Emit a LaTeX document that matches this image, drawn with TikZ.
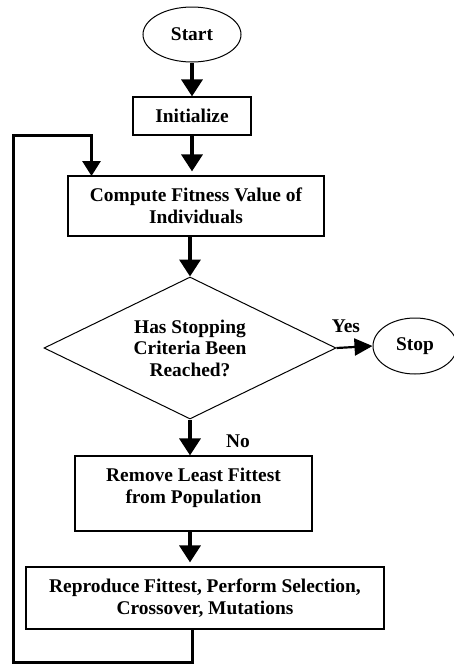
\documentclass[tikz,border=0pt]{standalone}
\usepackage{fontspec}
\setmainfont{Liberation Serif}
\usetikzlibrary{arrows.meta, positioning, shapes.geometric}

\begin{document}
\begin{tikzpicture}[x=1pt, y=-1pt,
  box/.style={draw, line width=1.2pt, inner sep=0pt, align=center,
    font=\fontsize{19.4}{21.5}\selectfont\bfseries},
  oval/.style={box, ellipse, line width=1pt},
  flow/.style={line width=3.5pt, -{Triangle[length=17pt, width=21pt]}},
  back/.style={line width=3pt, -{Triangle[length=15pt, width=18pt]}},
  lbl/.style={font=\fontsize{19.4}{21.5}\selectfont\bfseries}]

% Page
\useasboundingbox (0,0) rectangle (453,664);

% Shapes
\node[oval, minimum width=98pt, minimum height=55pt] (start) at (192,34.5) {Start};
\node[box, minimum width=118pt, minimum height=38pt] (init) at (192,116) {Initialize};
\node[box, minimum width=256pt, minimum height=60pt] (fit) at (196,206)
  {Compute Fitness Value of\\Individuals};
\node[box, diamond, aspect=2, line width=1pt, minimum width=292pt, minimum height=142pt] (crit) at (190,348)
  {Has Stopping\\Criteria Been\\Reached?};
\node[oval, minimum width=84pt, minimum height=56pt] (stop) at (415,346) {Stop};
\node[box, minimum width=237pt, minimum height=75pt] (remove) at (193.5,493.5)
  {Remove Least Fittest\\from Population\\[-6pt]\mbox{}};
\node[box, minimum width=358pt, minimum height=62pt] (repro) at (205,598)
  {Reproduce Fittest, Perform Selection,\\Crossover, Mutations};

% Labels
\node[lbl] (yes) at (346,326) {Yes};
\node[lbl] (no) at (238,441) {No};

% Main flow
\draw[flow] (start.south -| init.north) -- (init.north);
\draw[flow, shorten >=4pt] (init.south) -- (init.south |- fit.north);
\draw[flow] (fit.south -| crit.north) -- (crit.north);
\draw[line width=2.2pt, -{Triangle[length=18pt, width=17pt]}] (crit.east) -- (stop.west);
\draw[flow] (crit.south) -- (crit.south |- remove.north);
\draw[flow, shorten >=4pt] (remove.south -| crit.south) -- (crit.south |- repro.north);

% Loop back
\coordinate (out) at (192,629);
\coordinate (lb) at (13,662);
\coordinate (lt) at (13,135);
\coordinate (in) at (91.5,176);
\draw[back] (out) |- (lb) -- (lt) -| (in);

\end{tikzpicture}
\end{document}
